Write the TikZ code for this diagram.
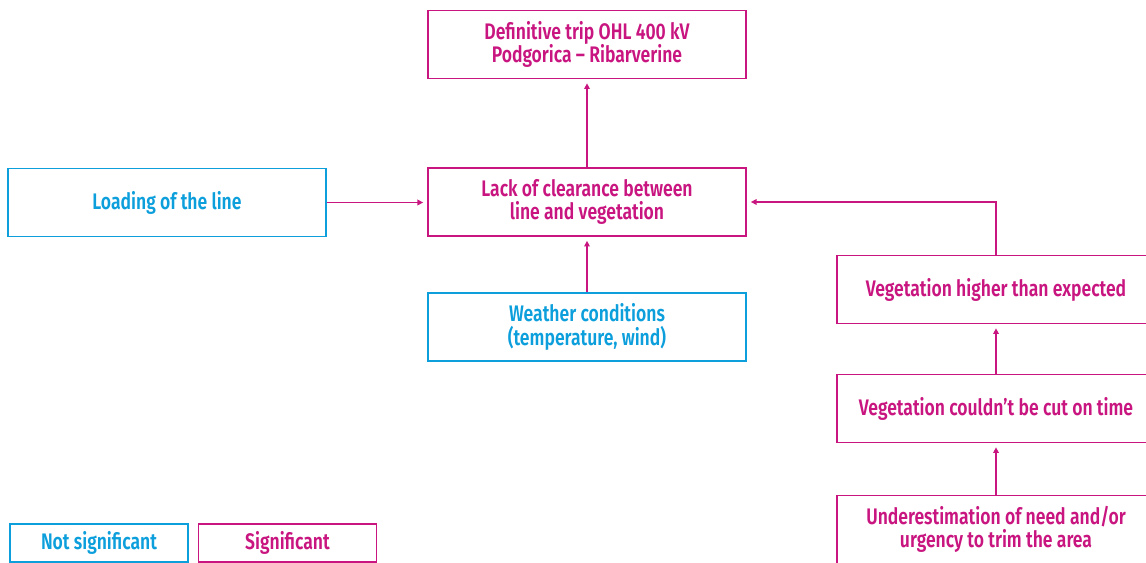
\documentclass[tikz,border=0pt]{standalone}
\usepackage{fontspec}
\setmainfont{Fira Sans}[FakeStretch=0.78, BoldFont={Fira Sans SemiBold}]
\usepackage{tikz}
\usetikzlibrary{arrows.meta}
\usepackage{xcolor}

\definecolor{sigcol}{HTML}{C8157F}
\definecolor{nsigcol}{HTML}{0C9FDC}

\tikzset{
  sigbox/.style={draw=sigcol, text=sigcol, line width=0.9pt, align=center,
    minimum width=7.95cm, minimum height=1.7cm, font=\bfseries\fontsize{16}{16.5}\selectfont},
  nsigbox/.style={sigbox, draw=nsigcol, text=nsigcol},
  keybox/.style={minimum width=4.45cm, minimum height=0.95cm},
  cause/.style={draw=sigcol, line width=0.9pt, -{Triangle[length=4pt,width=4pt]}, shorten >=3pt}
}

\begin{document}
\begin{tikzpicture}[x=0.025cm, y=-0.025cm]
  % canvas 1146 x 563, boxes on the right and bottom run off the edge
  \useasboundingbox (0,0) rectangle (1146,563);
  \clip (0,0) rectangle (1146,563);

  % main chain
  \node[sigbox] (trip) at (587,44.5) {Definitive trip OHL 400 kV\\Podgorica -- Ribarverine};
  \node[sigbox] (lack) at (587,202) {Lack of clearance between\\line and vegetation};
  \node[nsigbox] (load) at (167,202.5) {Loading of the line};
  \node[nsigbox] (weather) at (587,327) {Weather conditions\\(temperature, wind)};

  % vegetation branch
  \node[sigbox] (higher) at (996,289.5) {Vegetation higher than expected};
  \node[sigbox] (cut) at (996,408.5) {Vegetation couldn’t be cut on time};
  \node[sigbox] (under) at (996,529.5) {Underestimation of need and/or\\urgency to trim the area};

  % legend
  \node[nsigbox, keybox] (keyns) at (99,543) {Not significant};
  \node[sigbox, keybox] (keys) at (287.5,543) {Significant};

  % arrows
  \draw[cause] (lack) -- (trip);
  \draw[cause] (load.east) -- (load.east -| lack.west);
  \draw[cause] (weather) -- (lack);
  \draw[cause] (higher.north) |- (lack.east);
  \draw[cause] (cut) -- (higher);
  \draw[cause] (under) -- (cut);
\end{tikzpicture}
\end{document}
